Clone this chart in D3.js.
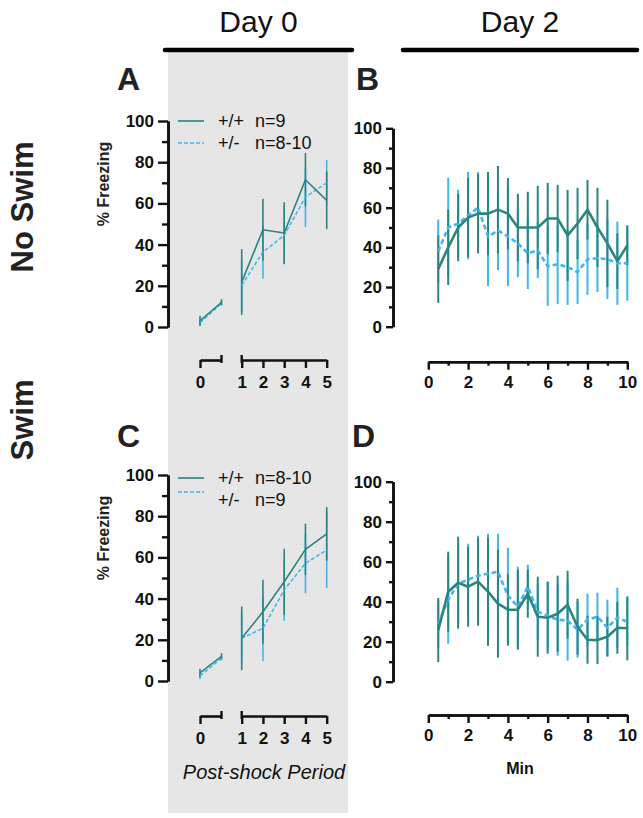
<!DOCTYPE html>
<html><head><meta charset="utf-8">
<script src="https://cdn.jsdelivr.net/npm/d3@7"></script>
<style>body{margin:0;background:#fff}svg{display:block}text{font-family:"Liberation Sans",Arial,sans-serif}</style>
</head><body><svg id="c" width="643" height="818"></svg>
<script>
// ---------- DATA ----------
const yTicks = [0, 20, 40, 60, 80, 100];
const yMinor = [10, 30, 50, 70, 90];
const preX = [0, 1];                 // pre-shock segment (labelled "0")
const postX = [1, 2, 3, 4, 5];       // post-shock periods
const minutes = [0.5,1,1.5,2,2.5,3,3.5,4,4.5,5,5.5,6,6.5,7,7.5,8,8.5,9,9.5,10];
const minTicks = [0, 2, 4, 6, 8, 10];
const minMinor = [1, 3, 5, 7, 9];

// Panel A (No Swim, Day 0)
const A_wt_pre = [3, 12],   A_wt_pre_err = [2.5, 1.5];
const A_het_pre = [2, 11.5], A_het_pre_err = [1.5, 1];
const A_wt_post = [21.8, 47.2, 45.6, 71.5, 61.5], A_wt_post_err = [16, 15, 15, 13, 14];
const A_het_post = [20.2, 36.4, 44.5, 63, 70],    A_het_post_err = [13, 13, 14, 14.5, 11];
// Panel C (Swim, Day 0)
const C_wt_pre = [4, 12],   C_wt_pre_err = [2, 1.5];
const C_het_pre = [2.5, 11], C_het_pre_err = [1.5, 1];
const C_wt_post = [20.7, 33.6, 48.2, 63.9, 71.4], C_wt_post_err = [15.5, 15.5, 16, 12.5, 13];
const C_het_post = [20.7, 25.6, 44.2, 57.1, 63.6], C_het_post_err = [12, 16, 15, 14.5, 18.5];
// Panel B (No Swim, Day 2)
const B_wt  = [29,40,50,55,57,57,59,57,50,50,50,54.5,54.5,46,52,59,50,42,33,41];
const B_wt_err = [17,19,17,20,20,21,22,18,17,18,21,18,17,23,18,15,20,22,14,10];
const B_het = [38,50,52,56,60,45.5,48.5,45.5,42,37,38.5,30.5,31.5,30,27.5,34,34.5,34,32,32];
const B_het_err = [16,25,17,22,18,25,20,25,17,18,14,20,20,19,16,18,17,20,21,19];
// Panel D (Swim, Day 2)
const D_wt  = [25.8,45,49.5,47.5,50,45,39,36,36,44,32.5,32,34,38.5,27.5,21,20.8,22.5,27,26.7];
const D_wt_err = [16,20,23,20,22,27,27,18,20,12,20,18,19,17,14,12,12,10,13,16];
const D_het = [29,41,49,51,53,54,55,43,37.5,47.5,35,33,31,30.5,26,31,32.5,27,32,30];
const D_het_err = [12,22,20,18,20,20,19,24,20,11,14,17,18,20,14,13,12,14,15,12];

const legendA = [["+/+", "n=9"], ["+/-", "n=8-10"]];
const legendC = [["+/+", "n=8-10"], ["+/-", "n=9"]];

// ---------- STYLE ----------
const TEAL = "#2a857f", BLUE = "#40b6ee", GRAY = "#e6e6e6";
const svg = d3.select("#c");

svg.append("rect").attr("x",168).attr("y",52).attr("width",180).attr("height",761).attr("fill",GRAY);
[[165,352,"Day 0"],[403,637,"Day 2"]].forEach(([x1,x2,t])=>{
  svg.append("line").attr("x1",x1).attr("x2",x2).attr("y1",50).attr("y2",50)
    .attr("stroke","#000").attr("stroke-width",4.5).attr("stroke-linecap","round");
  svg.append("text").attr("x",(x1+x2)/2).attr("y",32).attr("text-anchor","middle")
    .attr("font-size",30).attr("fill","#111").text(t);
});
[["No Swim",22,207],["Swim",22,420]].forEach(([t,x,y])=>{
  svg.append("text").attr("transform",`translate(${x},${y}) rotate(-90)`).attr("text-anchor","middle")
    .attr("dy","0.35em").attr("font-size",31).attr("font-weight","bold").attr("fill","#222").text(t);
});
[["A",117,90],["B",356,90],["C",117,447],["D",352,447]].forEach(([t,x,y])=>{
  svg.append("text").attr("x",x).attr("y",y).attr("font-size",32).attr("font-weight","bold").attr("fill","#222").text(t);
});

function yAxis(g, y, x0, big){
  const a = g.append("g").attr("transform",`translate(${x0},0)`);
  a.call(d3.axisLeft(y).tickValues(yTicks).tickSize(big?10:7).tickSizeOuter(0).tickPadding(4));
  a.append("g").call(d3.axisLeft(y).tickValues(yMinor).tickSize(big?6:4).tickFormat("").tickSizeOuter(0));
  a.selectAll("path.domain").attr("stroke","#111").attr("stroke-width",2.6);
  a.selectAll(".tick line").attr("stroke","#111").attr("stroke-width",2.4);
  a.selectAll("text").attr("font-size",17).attr("font-weight","bold").attr("fill","#111")
    .attr("font-family",'"Liberation Sans",Arial,sans-serif');
  return a;
}
function styleX(a){
  a.selectAll("path.domain").attr("stroke","#111").attr("stroke-width",2.6);
  a.selectAll(".tick line").attr("stroke","#111").attr("stroke-width",2.4);
  a.selectAll("text").attr("font-size",17).attr("font-weight","bold").attr("fill","#111")
    .attr("font-family",'"Liberation Sans",Arial,sans-serif');
}
function errBars(g, xs, x, y, vals, errs, color, w){
  g.selectAll(null).data(vals).enter().append("line")
    .attr("x1",(d,i)=>x(xs[i])).attr("x2",(d,i)=>x(xs[i]))
    .attr("y1",(d,i)=>y(d+errs[i])).attr("y2",(d,i)=>y(Math.max(0,d-errs[i])))
    .attr("stroke",color).attr("stroke-width",w);
}
function series(g, xs, x, y, vals, color, w, dash){
  g.append("path").datum(vals).attr("fill","none").attr("stroke",color).attr("stroke-width",w)
    .attr("stroke-dasharray",dash?dash:null).attr("stroke-linejoin","round")
    .attr("d", d3.line().x((d,i)=>x(xs[i])).y(d=>y(d)));
}

function day0(y0, y100, axisY, wpre, wpreE, hpre, hpreE, wpost, wpostE, hpost, hpostE, legend, legY){
  const y = d3.scaleLinear([0,100],[y0,y100]);
  const xPre = d3.scaleLinear([0,1],[200,221.5]);
  const xPost = d3.scaleLinear([1,5],[241.7,326.7]);
  const g = svg.append("g");
  yAxis(g, y, 168, true);
  const a1 = g.append("g").attr("transform",`translate(0,${axisY})`)
    .call(d3.axisBottom(xPre).tickValues([0]).tickFormat(d3.format("d")).tickSize(8).tickSizeOuter(0).tickPadding(8));
  const a2 = g.append("g").attr("transform",`translate(0,${axisY})`)
    .call(d3.axisBottom(xPost).tickValues(postX).tickFormat(d3.format("d")).tickSize(8).tickSizeOuter(0).tickPadding(8));
  styleX(a1); styleX(a2);
  [xPre(1), xPost(1)].forEach(xx=>g.append("line").attr("x1",xx).attr("x2",xx)
    .attr("y1",axisY-5).attr("y2",axisY+3).attr("stroke","#111").attr("stroke-width",2.4));
  const d = g.append("g");
  errBars(d, preX, xPre, y, hpre, hpreE, BLUE, 1.6);
  errBars(d, postX, xPost, y, hpost, hpostE, BLUE, 1.6);
  errBars(d, preX, xPre, y, wpre, wpreE, TEAL, 1.6);
  errBars(d, postX, xPost, y, wpost, wpostE, TEAL, 1.6);
  series(d, preX, xPre, y, hpre, BLUE, 1.5, "4,2");
  series(d, postX, xPost, y, hpost, BLUE, 1.5, "4,2");
  series(d, preX, xPre, y, wpre, TEAL, 1.6);
  series(d, postX, xPost, y, wpost, TEAL, 1.6);
  legend.forEach((r,i)=>{
    const ly = legY[i];
    g.append("line").attr("x1",178).attr("x2",204).attr("y1",ly[0]).attr("y2",ly[0])
      .attr("stroke", i?BLUE:TEAL).attr("stroke-width",1.6).attr("stroke-dasharray", i?"4,2":null);
    g.append("text").attr("x",218).attr("y",ly[1]).attr("dy","0.35em").attr("font-size",18).attr("fill","#111").text(r[0]);
    g.append("text").attr("x",255).attr("y",ly[1]).attr("dy","0.35em").attr("font-size",18).attr("fill","#111").text(r[1]);
  });
  g.append("text").attr("transform",`translate(103,${(y0+y100)/2 - 40}) rotate(-90)`)
    .attr("text-anchor","middle").attr("dy","0.35em").attr("font-size",16).attr("font-weight","bold").attr("fill","#222").text("% Freezing");
}
day0(327,121,360, A_wt_pre,A_wt_pre_err,A_het_pre,A_het_pre_err,A_wt_post,A_wt_post_err,A_het_post,A_het_post_err, legendA, [[121,121],[143,143]]);
day0(681,475,716, C_wt_pre,C_wt_pre_err,C_het_pre,C_het_pre_err,C_wt_post,C_wt_post_err,C_het_post,C_het_post_err, legendC, [[478,478],[492,500]]);
svg.append("text").attr("x",264).attr("y",779).attr("text-anchor","middle").attr("font-size",20)
  .attr("font-style","italic").attr("fill","#111").text("Post-shock Period");

function day2(y0, y100, axisY, wt, wtE, het, hetE){
  const y = d3.scaleLinear([0,100],[y0,y100]);
  const x = d3.scaleLinear([0,10],[428.3,627.3]);
  const g = svg.append("g");
  yAxis(g, y, 393, false);
  const ax = g.append("g").attr("transform",`translate(0,${axisY})`);
  ax.call(d3.axisBottom(x).tickValues(minTicks).tickSize(8).tickSizeOuter(0).tickPadding(6));
  ax.append("g").call(d3.axisBottom(x).tickValues(minMinor).tickSize(4).tickFormat("").tickSizeOuter(0));
  styleX(ax);
  const d = g.append("g");
  errBars(d, minutes, x, y, het, hetE, BLUE, 2);
  errBars(d, minutes, x, y, wt, wtE, TEAL, 2);
  series(d, minutes, x, y, het, BLUE, 2.6, "5,3");
  series(d, minutes, x, y, wt, TEAL, 2.6);
}
day2(326.7,128.3,361.7, B_wt,B_wt_err,B_het,B_het_err);
day2(681.7,481.7,715, D_wt,D_wt_err,D_het,D_het_err);
svg.append("text").attr("x",520).attr("y",774).attr("text-anchor","middle").attr("font-size",16)
  .attr("font-weight","bold").attr("fill","#111").text("Min");
</script></body></html>
